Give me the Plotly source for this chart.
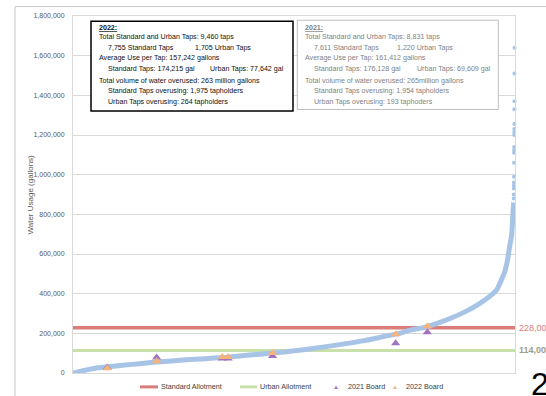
import plotly.graph_objects as go

# ---- data -------------------------------------------------------------
# Sorted annual water use per tap (rank of tap -> gallons)
tap_rank = [0, 150, 320, 470, 730, 1110, 1430, 1800, 2290, 2720, 3210, 3570,
            4000, 4280, 4750, 5220, 5710, 6210, 6680, 7000, 7210, 7580, 7860,
            8130, 8430, 8710, 8920, 9080, 9180, 9250, 9310, 9350, 9400, 9420,
            9440]
tap_usage = [0, 8000, 17000, 24000, 31000, 40000, 47000, 55000, 64000, 71000,
             78000, 86000, 95000, 101000, 112000, 126000, 143000, 162000,
             185000, 200000, 215000, 233000, 255000, 280000, 312000, 350000,
             385000, 420000, 470000, 510000, 570000, 630000, 700000, 780000,
             860000]

# Highest users (sparse tail of the distribution)
top_rank = [9443, 9444, 9445, 9446, 9447, 9448, 9449, 9450, 9451, 9452, 9453,
            9454, 9455, 9456, 9457, 9458, 9459, 9460]
top_usage = [880000, 900000, 930000, 945000, 960000, 990000, 1060000, 1110000,
             1125000, 1140000, 1200000, 1215000, 1230000, 1255000, 1330000,
             1370000, 1510000, 1640000]

# Board members' usage
board_rank = [734, 1792, 3200, 3324, 4275, 6913, 7592]
board_2021 = [28000, 78000, 73000, 73000, 86000, 150000, 206000]
board_2022 = [24000, 59000, 81000, 81000, 101000, 195000, 236000]

standard_allotment = 228000
urban_allotment = 114000
x_max = 9470

y_ticks = [0, 200000, 400000, 600000, 800000, 1000000, 1200000, 1400000,
           1600000, 1800000]

box_2022 = [
    "<b><u>2022:</u></b>",
    "Total Standard and Urban Taps: 9,460 taps",
    ("7,755 Standard Taps", "1,705 Urban Taps"),
    "Average Use per Tap: 157,242 gallons",
    ("Standard Taps: 174,215 gal", "Urban Taps: 77,642 gal"),
    "Total volume of water overused: 263 million gallons",
    "Standard Taps overusing: 1,975 tapholders",
    "Urban Taps overusing: 264 tapholders",
]
box_2021 = [
    "<b><u>2021:</u></b>",
    "Total Standard and Urban Taps: 8,831 taps",
    ("7,611 Standard Taps", "1,220 Urban Taps"),
    "Average Use per Tap: 161,412 gallons",
    ("Standard Taps: 176,128 gal", "Urban Taps: 69,609 gal"),
    "Total volume of water overused: 265million gallons",
    "Standard Taps overusing: 1,954 tapholders",
    "Urban Taps overusing: 193 taphoders",
]

# ---- styling ------------------------------------------------------------
W, H = 546, 396
L, R, T, B = 73, 31, 13, 23
PW, PH = W - L - R, H - T - B
FONT = "Liberation Sans, Arial, sans-serif"
BLUE = "#A7C4E6"
RED = "#D97D7A"
GREEN = "#C8E1AB"
PURPLE = "#A173BF"
ORANGE = "#F6B37C"
AXIS_TXT = "#595959"
BOX_FONT = 7.1


def px(x):
    return (x - L) / PW


def py(y):
    return (H - B - y) / PH


fig = go.Figure()

fig.add_trace(go.Scatter(x=[0, x_max], y=[standard_allotment] * 2, mode="lines",
                         line=dict(color=RED, width=3.5), name="Standard Allotment",
                         hoverinfo="skip"))
fig.add_trace(go.Scatter(x=[0, x_max], y=[urban_allotment] * 2, mode="lines",
                         line=dict(color=GREEN, width=3), name="Urban Allotment",
                         hoverinfo="skip"))
fig.add_trace(go.Scatter(x=tap_rank, y=tap_usage, mode="lines",
                         line=dict(color=BLUE, width=5, shape="spline", smoothing=0.6),
                         name="Taps"))
fig.add_trace(go.Scatter(x=top_rank, y=top_usage, mode="markers",
                         marker=dict(color=BLUE, size=4), cliponaxis=False,
                         name="Taps (top)"))
fig.add_trace(go.Scatter(x=board_rank, y=board_2021, mode="markers",
                         marker=dict(symbol="triangle-up", color=PURPLE, size=8),
                         name="2021 Board"))
fig.add_trace(go.Scatter(x=board_rank, y=board_2022, mode="markers",
                         marker=dict(symbol="triangle-up", color=ORANGE, size=8),
                         name="2022 Board"))

fig.update_layout(
    width=W, height=H,
    margin=dict(l=L, r=R, t=T, b=B, pad=0),
    paper_bgcolor="white", plot_bgcolor="white",
    showlegend=False,
    font=dict(family=FONT, size=7, color=AXIS_TXT),
)
fig.update_xaxes(range=[0, x_max], showticklabels=False, showgrid=False,
                 zeroline=False, showline=True, linecolor="#D9D9D9",
                 linewidth=1, mirror=True, ticks="")
fig.update_yaxes(range=[0, 1800000], tickvals=y_ticks, tickformat=",d",
                 showgrid=True, gridcolor="#D9D9D9", gridwidth=1,
                 zeroline=False, showline=True, linecolor="#D9D9D9",
                 linewidth=1, mirror=True, ticks="", ticklabelstandoff=6,
                 tickfont=dict(size=7, color=AXIS_TXT))

ann = []
shapes = []

# outer chart frame
shapes.append(dict(type="rect", xref="paper", yref="paper",
                   x0=px(15), x1=px(600), y0=py(430), y1=py(3.5),
                   line=dict(color="#C9C9C9", width=1), layer="below"))

# axis title
ann.append(dict(text="Water Usage (gallons)", xref="paper", yref="paper",
                x=px(30), y=py(193), textangle=-90, showarrow=False,
                font=dict(size=8, color=AXIS_TXT), xanchor="center", yanchor="middle"))

# allotment value labels
ann.append(dict(text="228,000", xref="paper", yref="y", x=px(517),
                y=standard_allotment, xanchor="left", yanchor="middle",
                showarrow=False, font=dict(size=9, color=RED)))
ann.append(dict(text="<b>114,000</b>", xref="paper", yref="y", x=px(517),
                y=urban_allotment, xanchor="left", yanchor="middle",
                showarrow=False, font=dict(size=9, color="#9C9C8C")))

# summary boxes
line_y = [24.7, 34.5, 45, 55.5, 66, 78.5, 89, 99.3]


def summary_box(lines, x0, x1, y0, y1, indent, col2, border, border_w, color):
    shapes.append(dict(type="rect", xref="paper", yref="paper",
                       x0=px(x0), x1=px(x1), y0=py(y1), y1=py(y0),
                       line=dict(color=border, width=border_w),
                       fillcolor="white", layer="above"))
    left = x0 + 5.5
    for i, item in enumerate(lines):
        if isinstance(item, tuple):
            parts = [(item[0], left + indent), (item[1], col2[i == 4])]
        elif i >= 6:
            parts = [(item, left + indent)]
        else:
            parts = [(item, left)]
        for txt, xx in parts:
            ann.append(dict(text=txt, xref="paper", yref="paper", x=px(xx),
                            y=py(line_y[i]), xanchor="left", yanchor="middle",
                            showarrow=False, font=dict(size=BOX_FONT, color=color)))


summary_box(box_2022, 91, 293, 18.3, 108.7, 9.5, {False: 193, True: 208},
            "#000000", 1.5, "#111111")
summary_box(box_2021, 297.3, 498.3, 17.3, 107.3, 9.5, {False: 395, True: 415},
            "#BFBFBF", 1, "#7F7F7F")

# legend
ly = py(387)
shapes.append(dict(type="line", xref="paper", yref="paper", x0=px(140), x1=px(158),
                   y0=ly, y1=ly, line=dict(color=RED, width=3)))
shapes.append(dict(type="line", xref="paper", yref="paper", x0=px(240), x1=px(257),
                   y0=ly, y1=ly, line=dict(color=GREEN, width=3)))
legend_items = [("Standard Allotment", 158.5), ("Urban Allotment", 257.5),
                ("2021 Board", 346), ("2022 Board", 403.5)]
for txt, xx in legend_items:
    ann.append(dict(text=txt, xref="paper", yref="paper", x=px(xx), y=ly,
                    xanchor="left", yanchor="middle", showarrow=False,
                    font=dict(size=7.2, color="#404040")))
for col, xx in [(PURPLE, 336), (ORANGE, 395)]:
    ann.append(dict(text="▲", xref="paper", yref="paper", x=px(xx), y=ly,
                    xanchor="center", yanchor="middle", showarrow=False,
                    font=dict(size=6, color=col)))

# page number
ann.append(dict(text="2", xref="paper", yref="paper", x=px(529), y=py(384),
                xanchor="left", yanchor="middle", showarrow=False,
                font=dict(size=32, color="#000000")))

fig.update_layout(annotations=ann, shapes=shapes)
fig.write_html("out.html")
